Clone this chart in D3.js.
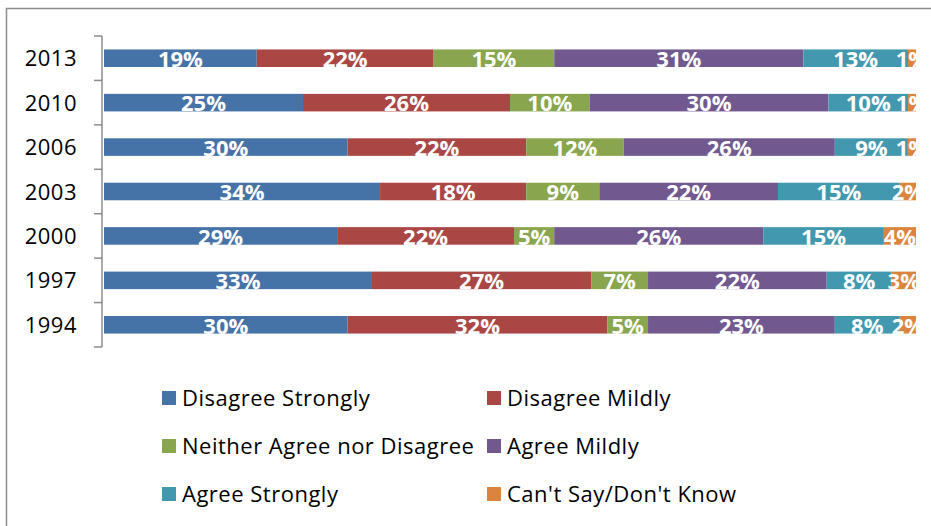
<!DOCTYPE html>
<html><head><meta charset="utf-8">
<script src="https://cdn.jsdelivr.net/npm/d3@7"></script>
<style>body{margin:0;background:#fff}svg{display:block}</style>
</head><body><svg id="c" width="931" height="526"></svg>
<script>
const years = ["2013","2010","2006","2003","2000","1997","1994"];
const seriesNames = ["Disagree Strongly","Disagree Mildly","Neither Agree nor Disagree","Agree Mildly","Agree Strongly","Can't Say/Don't Know"];
const disagreeStrongly = [19,25,30,34,29,33,30];
const disagreeMildly   = [22,26,22,18,22,27,32];
const neither          = [15,10,12,9,5,7,5];
const agreeMildly      = [31,30,26,22,26,22,23];
const agreeStrongly    = [13,10,9,15,15,8,8];
const cantSay          = [1,1,1,2,4,3,2];
const colors = ["#4572A7","#AA4643","#89A54E","#71588F","#4198AF","#DB843D"];

const seriesValues = [disagreeStrongly,disagreeMildly,neither,agreeMildly,agreeStrongly,cantSay];
const rows = years.map((y,i)=>{const o={year:y};seriesNames.forEach((s,j)=>o[s]=seriesValues[j][i]);return o;});
const stack = d3.stack().keys(seriesNames).offset(d3.stackOffsetExpand)(rows);

const svg = d3.select("#c");
const font = "'Open Sans', sans-serif";

// frame
svg.append("path").attr("d","M6.5,526 V8.5 H931").attr("fill","none").attr("stroke","#8c8c8c").attr("stroke-width",1.5);

const x = d3.scaleLinear().domain([0,1]).range([104,916]);
const y = d3.scaleBand().domain(years).range([36,347]).paddingInner(0.605).paddingOuter(0.3025);

const g = svg.append("g");
stack.forEach((s,j)=>{
  g.selectAll(null).data(s).enter().append("rect")
    .attr("x",d=>x(d[0])).attr("width",d=>x(d[1])-x(d[0]))
    .attr("y",d=>y(d.data.year)).attr("height",y.bandwidth())
    .attr("fill",colors[j]);
});
// labels
stack.forEach((s,j)=>{
  g.selectAll(null).data(s).enter().append("text")
    .attr("x",d=>(x(d[0])+x(d[1]))/2)
    .attr("y",d=>y(d.data.year)+y.bandwidth()/2+8.8)
    .attr("text-anchor","middle")
    .attr("font-family",font).attr("font-weight","bold").attr("font-size",22)
    .attr("fill","#fff")
    .text(d=>d.data[seriesNames[j]]+"%");
});

// axis
const axisBand = d3.scalePoint().domain(d3.range(years.length+1)).range([36,347]);
const ax = svg.append("g").attr("transform","translate(102,0)");
ax.append("line").attr("x1",0).attr("x2",0).attr("y1",36).attr("y2",347).attr("stroke","#8c8c8c").attr("stroke-width",1.5);
ax.selectAll(null).data(axisBand.domain()).enter().append("line")
  .attr("x1",-8).attr("x2",0).attr("y1",d=>axisBand(d)).attr("y2",d=>axisBand(d))
  .attr("stroke","#8c8c8c").attr("stroke-width",1.5);
svg.selectAll(null).data(years).enter().append("text")
  .attr("x",77).attr("y",d=>y(d)+y.bandwidth()/2+8)
  .attr("text-anchor","end").attr("font-family",font).attr("font-size",22).attr("letter-spacing",0.5).attr("fill","#000")
  .text(d=>d);

// legend
const legPos = [[162,391],[487,391],[162,439],[487,439],[162,487],[487,487]];
seriesNames.forEach((n,j)=>{
  const [lx,ly]=legPos[j];
  svg.append("rect").attr("x",lx).attr("y",ly).attr("width",14).attr("height",14).attr("fill",colors[j]);
  svg.append("text").attr("x",lx+20).attr("y",ly+15).attr("font-family",font).attr("font-size",22).attr("letter-spacing",0.5).attr("fill","#000").text(n);
});
</script></body></html>
